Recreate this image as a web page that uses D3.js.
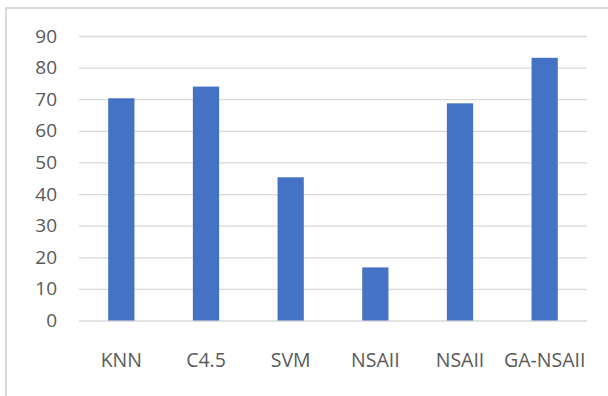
<!DOCTYPE html>
<html>
<head>
<meta charset="utf-8">
<script src="https://cdn.jsdelivr.net/npm/d3@7"></script>
<style>
  html, body { margin: 0; padding: 0; background: #fff; }
  svg { display: block; }
</style>
</head>
<body>
<svg id="chart" width="608" height="396"></svg>
<script>
// Accuracy (%) per classifier
const categories = ["KNN", "C4.5", "SVM", "NSAII", "NSAII", "GA-NSAII"];
const values = [70.3, 74.0, 45.3, 16.8, 68.7, 83.1];
const yTicks = [0, 10, 20, 30, 40, 50, 60, 70, 80, 90];

const svg = d3.select("#chart");
const W = 608, H = 396;
const plot = { left: 79, right: 587, top: 36, bottom: 320.5 };

// Chart frame
svg.append("path")
  .attr("d", `M6,${H} V8 H${W}`)
  .attr("fill", "none")
  .attr("stroke", "#d9d9d9")
  .attr("stroke-width", 2);

const x = d3.scaleBand()
  .domain(d3.range(categories.length))
  .range([plot.left, plot.right])
  .paddingInner(0.69)
  .paddingOuter(0.345);

const y = d3.scaleLinear().domain([0, 90]).range([plot.bottom, plot.top]);

// Horizontal gridlines + y tick labels
const yAxis = d3.axisLeft(y)
  .tickValues(yTicks)
  .tickSize(-(plot.right - plot.left))
  .tickPadding(22);

const gy = svg.append("g")
  .attr("transform", `translate(${plot.left},0)`)
  .call(yAxis);
gy.select(".domain").remove();
gy.selectAll(".tick line").attr("stroke", "#d9d9d9").attr("stroke-width", 1.3);
gy.selectAll(".tick text")
  .attr("fill", "#595959")
  .style("font-family", "'Open Sans', sans-serif")
  .style("font-size", "19px");

// Bars
svg.append("g")
  .selectAll("rect")
  .data(values)
  .join("rect")
  .attr("x", (d, i) => x(i))
  .attr("y", d => y(d))
  .attr("width", x.bandwidth())
  .attr("height", d => y(0) - y(d))
  .attr("fill", "#4472c4");

// Category labels
const xAxis = d3.axisBottom(x)
  .tickFormat(i => categories[i])
  .tickSize(0)
  .tickPadding(0);
const gx = svg.append("g")
  .attr("transform", `translate(0,${plot.bottom})`)
  .call(xAxis);
gx.select(".domain").remove();
gx.selectAll(".tick text")
  .attr("dy", null)
  .attr("y", 46.5)
  .attr("fill", "#595959")
  .style("font-family", "'Open Sans', sans-serif")
  .style("font-size", "19.5px");
</script>
</body>
</html>
